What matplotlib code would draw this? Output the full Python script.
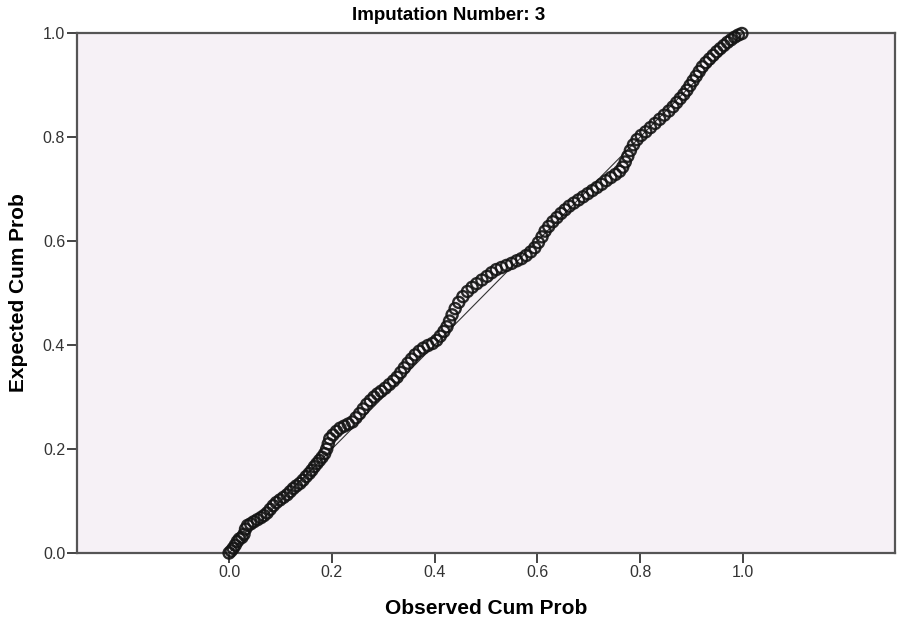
import matplotlib
matplotlib.use("Agg")
import matplotlib.pyplot as plt

# P-P plot data (observed vs expected cumulative probability)
observed_cum = [
    0.000, 0.004, 0.008, 0.012, 0.016, 0.020, 0.025, 0.029, 0.032, 0.036,
    0.042, 0.048, 0.055, 0.062, 0.068, 0.074, 0.080, 0.086, 0.092, 0.099,
    0.106, 0.113, 0.119, 0.125, 0.131, 0.138, 0.144, 0.150, 0.156, 0.161,
    0.166, 0.171, 0.176, 0.181, 0.186, 0.190, 0.193, 0.196, 0.202, 0.209,
    0.216, 0.224, 0.232, 0.240, 0.247, 0.254, 0.261, 0.268, 0.275, 0.282,
    0.289, 0.296, 0.304, 0.312, 0.320, 0.327, 0.334, 0.341, 0.348, 0.355,
    0.362, 0.370, 0.378, 0.387, 0.396, 0.404, 0.411, 0.418, 0.424, 0.429,
    0.434, 0.440, 0.447, 0.455, 0.464, 0.473, 0.482, 0.492, 0.502, 0.511,
    0.520, 0.530, 0.540, 0.550, 0.560, 0.569, 0.578, 0.587, 0.595, 0.602,
    0.609, 0.615, 0.622, 0.630, 0.638, 0.646, 0.654, 0.662, 0.671, 0.680,
    0.689, 0.698, 0.707, 0.716, 0.725, 0.734, 0.743, 0.752, 0.760, 0.766,
    0.771, 0.776, 0.781, 0.787, 0.794, 0.802, 0.811, 0.820, 0.829, 0.838,
    0.847, 0.856, 0.864, 0.871, 0.878, 0.885, 0.891, 0.897, 0.903, 0.909,
    0.915, 0.921, 0.928, 0.935, 0.942, 0.949, 0.956, 0.963, 0.970, 0.977,
    0.984, 0.991, 0.998,
]
expected_cum = [
    0.000, 0.004, 0.009, 0.015, 0.022, 0.027, 0.030, 0.036, 0.046, 0.053,
    0.056, 0.060, 0.064, 0.068, 0.072, 0.077, 0.084, 0.091, 0.097, 0.102,
    0.107, 0.112, 0.118, 0.124, 0.129, 0.134, 0.140, 0.147, 0.153, 0.159,
    0.166, 0.172, 0.178, 0.184, 0.191, 0.200, 0.210, 0.220, 0.227, 0.234,
    0.240, 0.244, 0.248, 0.252, 0.260, 0.268, 0.277, 0.286, 0.293, 0.300,
    0.306, 0.311, 0.317, 0.324, 0.331, 0.338, 0.347, 0.356, 0.365, 0.373,
    0.381, 0.388, 0.394, 0.399, 0.403, 0.409, 0.417, 0.426, 0.435, 0.446,
    0.458, 0.470, 0.482, 0.493, 0.503, 0.511, 0.518, 0.525, 0.532, 0.539,
    0.545, 0.549, 0.553, 0.557, 0.562, 0.566, 0.572, 0.579, 0.587, 0.597,
    0.608, 0.619, 0.628, 0.637, 0.645, 0.653, 0.660, 0.667, 0.673, 0.679,
    0.685, 0.691, 0.697, 0.703, 0.709, 0.716, 0.722, 0.728, 0.734, 0.742,
    0.752, 0.763, 0.774, 0.785, 0.795, 0.803, 0.810, 0.818, 0.826, 0.834,
    0.842, 0.850, 0.858, 0.866, 0.874, 0.882, 0.890, 0.899, 0.908, 0.917,
    0.926, 0.935, 0.943, 0.950, 0.957, 0.964, 0.970, 0.976, 0.982, 0.987,
    0.992, 0.996, 0.999,
]
ref_line = [0.0, 1.0]

tick_values = [0.0, 0.2, 0.4, 0.6, 0.8, 1.0]
tick_labels = ["0.0", "0.2", "0.4", "0.6", "0.8", "1.0"]

title_text = "Imputation Number: 3"
x_label = "Observed Cum Prob"
y_label = "Expected Cum Prob"


def draw_pp_plot(out_file: str) -> None:
    """
    Draws the SPSS style P-P plot and saves it.
    :param out_file: name of the png to write
    """
    plt.rcParams['font.family'] = ['Liberation Sans', 'DejaVu Sans']

    fig = plt.figure(figsize=(8.98, 6.24), dpi=100)
    ax = fig.add_axes([77 / 898, 71 / 624, (895 - 77) / 898, (553 - 33) / 624])
    ax.set_facecolor('#f6f1f6')

    # reference diagonal, then the points on top
    ax.plot(ref_line, ref_line, color='#333333', linewidth=0.8, zorder=2)
    ax.scatter(observed_cum, expected_cum, s=64, facecolors='none',
               edgecolors='#141414', linewidths=1.7, alpha=0.9, zorder=3,
               clip_on=False)

    ax.set_xlim(-0.296, 1.296)
    ax.set_ylim(0.0, 1.0)
    ax.set_xticks(tick_values)
    ax.set_xticklabels(tick_labels)
    ax.set_yticks(tick_values)
    ax.set_yticklabels(tick_labels)

    for side in ['left', 'right', 'top', 'bottom']:
        ax.spines[side].set_color('#555555')
        ax.spines[side].set_linewidth(1.6)
    ax.tick_params(axis='both', direction='out', length=7, width=1.4,
                   color='#444444', labelsize=11.5, labelcolor='#333333', pad=1.5)

    # the title sits at the centre of the whole figure, not the axes
    fig.text(0.5, 1 - 15 / 624, title_text, fontsize=13.5, fontweight='bold',
             ha='center', va='center')
    ax.set_xlabel(x_label, fontsize=15, fontweight='bold', labelpad=14)
    ax.set_ylabel(y_label, fontsize=15, fontweight='bold', labelpad=11)

    fig.savefig(out_file, dpi=100)


if __name__ == '__main__':
    draw_pp_plot("out.png")
